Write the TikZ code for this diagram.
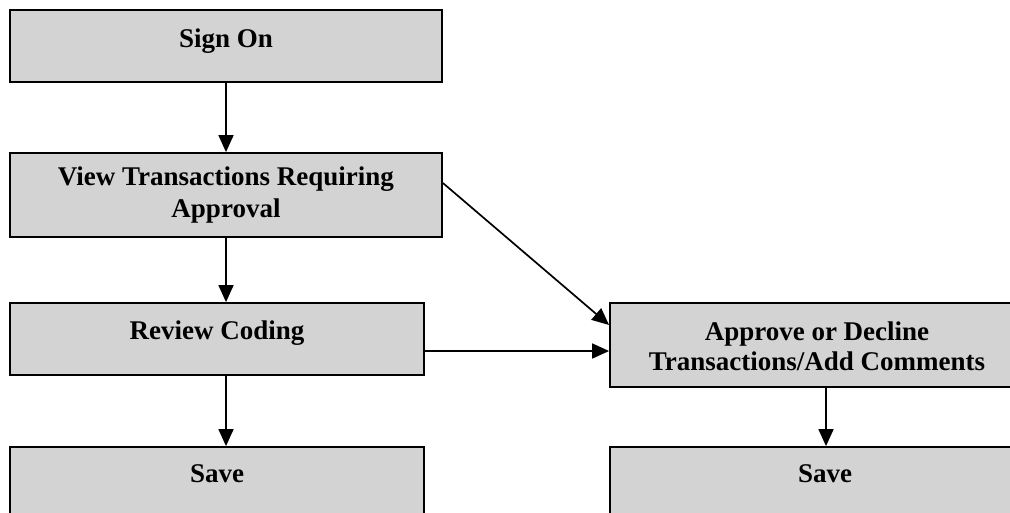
\documentclass[tikz,border=0pt]{standalone}
\usepackage{fontspec}
\setmainfont{Liberation Serif}
\usetikzlibrary{arrows.meta,calc}
\definecolor{boxfill}{RGB}{211,211,211}
\tikzset{
  stepbox/.style={draw=black, line width=1.8pt, fill=boxfill, rectangle, inner sep=0pt},
  boxtext/.style={inner sep=0pt, anchor=base, align=center,
    font=\fontsize{27}{32}\selectfont\bfseries},
  flow/.style={line width=1.7pt, -{Triangle[length=17pt,width=15pt]}},
}
\begin{document}
\begin{tikzpicture}[x=1pt, y=-1pt]
  \useasboundingbox (0,0) rectangle (1010,512);
  \clip (0,0) rectangle (1010,512);

  % boxes (left column and right column)
  \node[stepbox, minimum width=432pt, minimum height=72pt] (sign)    at (226,46)  {};
  \node[stepbox, minimum width=432pt, minimum height=84pt] (view)    at (226,195) {};
  \node[stepbox, minimum width=414pt, minimum height=72pt] (review)  at (217,339) {};
  \node[stepbox, minimum width=414pt, minimum height=80pt] (saveL)   at (217,487) {};
  \node[stepbox, minimum width=414pt, minimum height=84pt] (approve) at (817,345) {};
  \node[stepbox, minimum width=430pt, minimum height=80pt] (saveR)   at (825,487) {};

  % box captions
  \node[boxtext] (signT)     at ([yshift=-38pt]sign.north)    {Sign On};
  \node[boxtext] (viewT1)    at ([yshift=-33pt]view.north)    {View Transactions Requiring};
  \node[boxtext] (viewT2)    at ([yshift=-65pt]view.north)    {Approval};
  \node[boxtext] (reviewT)   at ([yshift=-37pt]review.north)  {Review Coding};
  \node[boxtext] (saveLT)    at ([yshift=-36pt]saveL.north)   {Save};
  \node[boxtext] (approveT1) at ([yshift=-38pt]approve.north) {Approve or Decline};
  \node[boxtext] (approveT2) at ([yshift=-68pt]approve.north) {Transactions/Add Comments};
  \node[boxtext] (saveRT)    at ([yshift=-36pt]saveR.north)   {Save};

  % connector end points
  \coordinate (viewOut)    at ([yshift=12pt]view.east);
  \coordinate (approveIn)  at ([yshift=20pt]approve.west);
  \coordinate (reviewOut)  at ([yshift=-12pt]review.east);
  \coordinate (approveOut) at ([xshift=9pt]approve.south);

  % connectors
  \draw[flow] (sign.south) -- (view.north);
  \draw[flow] (view.south) -- (view.south |- review.north);
  \draw[flow] (view.south |- review.south) -- (view.south |- saveL.north);
  \draw[flow] (viewOut) -- (approveIn);
  \draw[flow] (reviewOut) -- (approve.west |- reviewOut);
  \draw[flow] (approveOut) -- (approveOut |- saveR.north);
\end{tikzpicture}
\end{document}
